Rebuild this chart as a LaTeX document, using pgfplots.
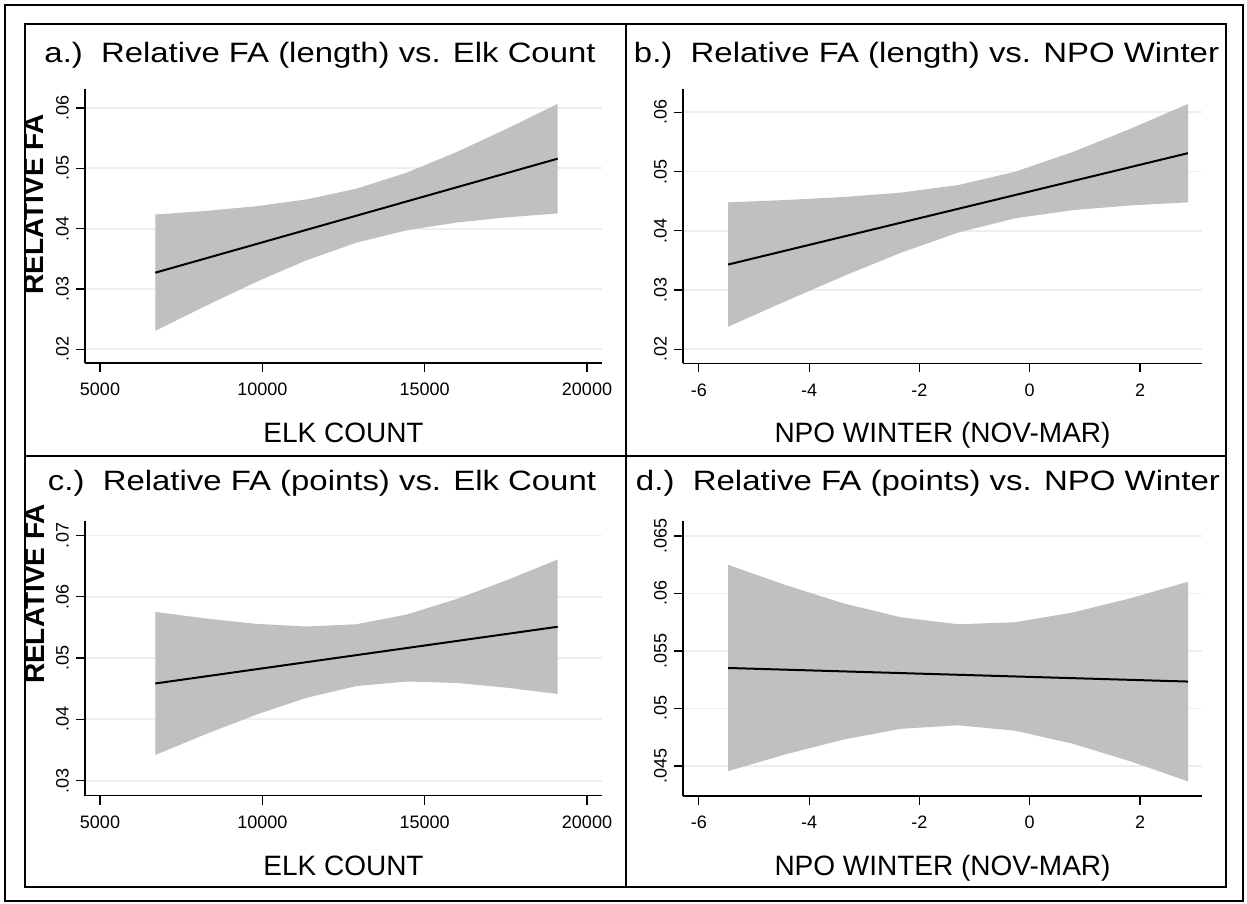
\documentclass[border=0pt]{standalone}
\usepackage{fontspec}
\setmainfont{Liberation Sans}
\usepackage{graphicx}
\usepackage{pgfplots}
\pgfplotsset{compat=1.18}
\definecolor{bandc}{RGB}{192,192,192}
\definecolor{gridc}{RGB}{232,240,242}
\pgfplotsset{panel/.style={
  scale only axis,
  axis x line*=bottom, axis y line*=left,
  axis line style={-, line width=1.2pt, black},
  tick align=outside, major tick length=9pt,
  tick style={black, line width=1.2pt},
  ymajorgrids, major grid style={gridc, line width=1.8pt},
  scaled ticks=false,
  ticklabel style={font=\fontsize{18}{18}\selectfont},
  xticklabel style={anchor=north, inner xsep=0pt, inner ysep=11pt},
  yticklabel style={rotate=90, anchor=south, inner xsep=0pt, inner ysep=7pt},
},
elk/.style={xmin=4538, xmax=20462, xtick={5000,10000,15000,20000}, xticklabels={5000,10000,15000,20000}, width=517pt},
npo/.style={xmin=-6.2865, xmax=3.124, xtick={-6,-4,-2,0,2}, xticklabels={-6,-4,-2,0,2}, width=519pt},
}
\newcommand{\ttl}[2]{\resizebox{#1}{\height}{\fontsize{28}{28}\selectfont #2}}
\begin{document}
\begin{tikzpicture}[x=1pt,y=1pt]
\path[use as bounding box, fill=white] (0,0) rectangle (1247,904);

% panel a
\begin{axis}[panel, elk, at={(85pt,541pt)}, anchor=south west, height=274pt,
  ymin=0.01773, ymax=0.06315, ytick={0.02,0.03,0.04,0.05,0.06}, yticklabels={.02,.03,.04,.05,.06}]
\addplot[fill=bandc, draw=none] coordinates {(6703,.04234) (8252,.04293) (9801,.04371) (11350,.04484) (12899,.04662) (14448,.04929) (15997,.05272) (17546,.05660) (19096,.06068)
 (19096,.04252) (17546,.04188) (15997,.04102) (14448,.03973) (12899,.03768) (11350,.03474) (9801,.03114) (8252,.02719) (6703,.02306)} -- cycle;
\addplot[black, line width=2pt] coordinates {(6703,.0327) (19096,.0516)};
\end{axis}

% panel b
\begin{axis}[panel, npo, at={(683pt,540.5pt)}, anchor=south west, height=274.5pt,
  ymin=0.0176, ymax=0.06393, ytick={0.02,0.03,0.04,0.05,0.06}, yticklabels={.02,.03,.04,.05,.06}]
\addplot[fill=bandc, draw=none] coordinates {(-5.47,.04480) (-4.4275,.04519) (-3.385,.04569) (-2.3425,.04643) (-1.3,.04771) (-0.2575,.04998) (0.785,.05331) (1.8275,.05722) (2.87,.0614)
 (2.87,.0448) (1.8275,.04428) (0.785,.04349) (-0.2575,.04212) (-1.3,.03969) (-2.3425,.03627) (-3.385,.03231) (-4.4275,.02811) (-5.47,.02380)} -- cycle;
\addplot[black, line width=2pt] coordinates {(-5.47,.0343) (2.87,.0531)};
\end{axis}

% panel c
\begin{axis}[panel, elk, at={(85pt,108.3pt)}, anchor=south west, height=275pt,
  ymin=0.027553, ymax=0.072414, ytick={0.03,0.04,0.05,0.06,0.07}, yticklabels={.03,.04,.05,.06,.07}]
\addplot[fill=bandc, draw=none] coordinates {(6703,.05753) (8252,.05646) (9801,.05559) (11350,.05515) (12899,.05552) (14448,.05711) (15997,.05966) (17546,.06274) (19096,.06607)
 (19096,.04415) (17546,.04516) (15997,.04594) (14448,.04618) (12899,.04544) (11350,.04351) (9801,.04075) (8252,.03758) (6703,.03420)} -- cycle;
\addplot[black, line width=2pt] coordinates {(6703,.04586) (19096,.05511)};
\end{axis}

% panel d
\begin{axis}[panel, npo, at={(683pt,108pt)}, anchor=south west, height=275pt,
  ymin=0.04239, ymax=0.0663, ytick={0.045,0.05,0.055,0.06,0.065}, yticklabels={.045,.05,.055,.06,.065}]
\addplot[fill=bandc, draw=none] coordinates {(-5.47,.06249) (-4.4275,.06073) (-3.385,.05915) (-2.3425,.05793) (-1.3,.05732) (-0.2575,.05750) (0.785,.05835) (1.8275,.05958) (2.87,.06102)
 (2.87,.04366) (1.8275,.04540) (0.785,.04693) (-0.2575,.04806) (-1.3,.04854) (-2.3425,.04823) (-3.385,.04729) (-4.4275,.04601) (-5.47,.04455)} -- cycle;
\addplot[black, line width=2pt] coordinates {(-5.47,.05352) (2.87,.05234)};
\end{axis}

% titles
\node[anchor=base, inner sep=0pt] at (320,841.5) {\ttl{551pt}{a.)\ \ Relative FA (length) vs. Elk Count}};
\node[anchor=base, inner sep=0pt] at (926.5,841.5) {\ttl{585pt}{b.)\ \ Relative FA (length) vs. NPO Winter}};
\node[anchor=base, inner sep=0pt] at (322,413.5) {\ttl{548pt}{c.)\ \ Relative FA (points) vs. Elk Count}};
\node[anchor=base, inner sep=0pt] at (928,413.5) {\ttl{584pt}{d.)\ \ Relative FA (points) vs. NPO Winter}};

% axis titles
\node[anchor=base, inner sep=0pt, font=\fontsize{28}{28}\selectfont] at (343.5,461.5) {ELK COUNT};
\node[anchor=base, inner sep=0pt, font=\fontsize{28}{28}\selectfont] at (942.5,461.5) {NPO WINTER (NOV-MAR)};
\node[anchor=base, inner sep=0pt, font=\fontsize{28}{28}\selectfont] at (343.5,28) {ELK COUNT};
\node[anchor=base, inner sep=0pt, font=\fontsize{28}{28}\selectfont] at (942.5,28) {NPO WINTER (NOV-MAR)};

% y titles (clipped at panel edge)
\begin{scope}
\clip (25,17) rectangle (626,880);
\node[rotate=90, anchor=base, inner sep=0pt, font=\bfseries\fontsize{28}{28}\selectfont] at (43,699.5) {RELATIVE FA};
\node[rotate=90, anchor=base, inner sep=0pt, font=\bfseries\fontsize{28}{28}\selectfont] at (44,310) {RELATIVE FA};
\end{scope}

% panel borders
\draw[black, line width=1.5pt] (25,448) rectangle (626,880);
\draw[black, line width=1.5pt] (626,448) rectangle (1226,880);
\draw[black, line width=1.5pt] (25,17) rectangle (626,448);
\draw[black, line width=1.5pt] (626,17) rectangle (1226,448);
% outer border
\draw[black, line width=2pt] (5,3) rectangle (1243,899);
\end{tikzpicture}
\end{document}
